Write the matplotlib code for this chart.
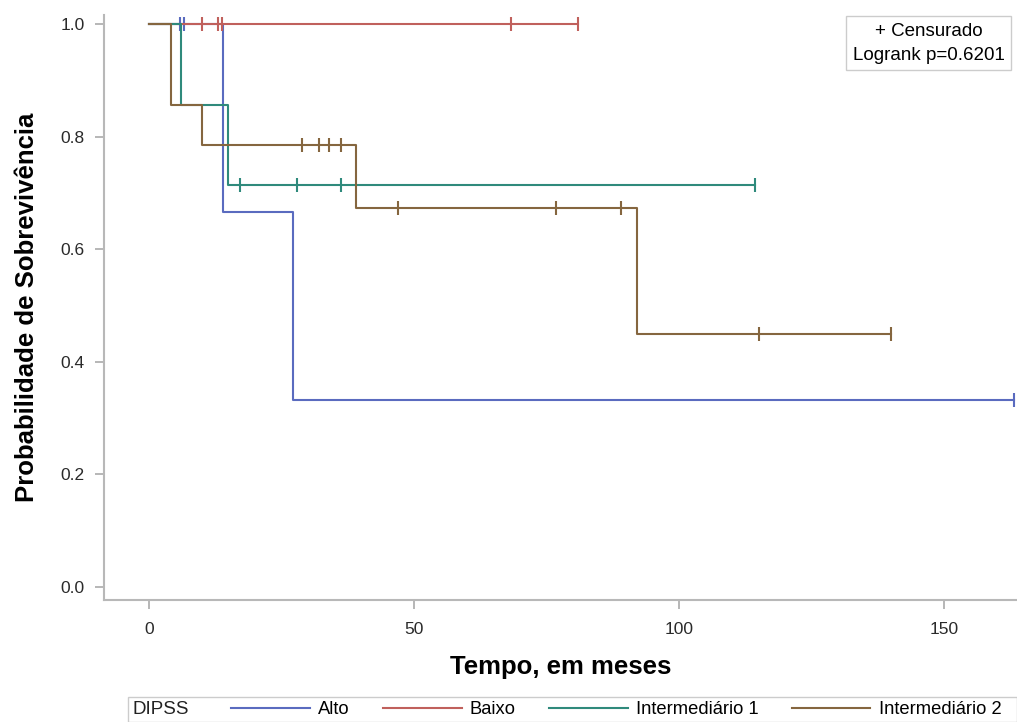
import numpy as np
import matplotlib
matplotlib.use('Agg')
import matplotlib.pyplot as plt
from matplotlib.patches import Rectangle

plt.rcParams['font.family'] = ['Liberation Sans', 'DejaVu Sans']

# curvas de Kaplan-Meier (tempo do degrau, sobrevivência)
grupos = ['Alto', 'Baixo', 'Intermediário 1', 'Intermediário 2']
cores = ['#5a6bbf', '#c0605c', '#2f8a7c', '#85663f']

alto_t = [0, 14.0, 27.2]
alto_s = [1.0, 0.667, 0.333]
alto_fim = 163.2
alto_cens = [5.9, 6.6, 163.2]

baixo_t = [0]
baixo_s = [1.0]
baixo_fim = 81.0
baixo_cens = [10.0, 13.1, 13.9, 68.3, 81.0]

int1_t = [0, 6.0, 15.0]
int1_s = [1.0, 0.857, 0.714]
int1_fim = 114.3
int1_cens = [17.2, 27.9, 36.2, 114.3]

int2_t = [0, 4.1, 10.1, 39.0, 92.1]
int2_s = [1.0, 0.857, 0.786, 0.673, 0.449]
int2_fim = 140.1
int2_cens = [28.9, 32.1, 34.0, 36.2, 47.0, 76.9, 89.0, 115.1, 140.1]

dados = [(alto_t, alto_s, alto_fim, alto_cens),
         (baixo_t, baixo_s, baixo_fim, baixo_cens),
         (int1_t, int1_s, int1_fim, int1_cens),
         (int2_t, int2_s, int2_fim, int2_cens)]

fig = plt.figure(figsize=(10.17, 7.22), dpi=100)
ax = fig.add_axes([0.102, 0.169, 0.898, 0.81])

linhas = []
for (t, s, fim, cens), cor, nome in zip(dados, cores, grupos):
    xs = list(t) + [fim]
    ys = list(s) + [s[-1]]
    l, = ax.step(xs, ys, where='post', color=cor, lw=1.5, label=nome)
    linhas.append(l)
    idx = np.searchsorted(t, cens, side='right') - 1
    ax.plot(cens, np.array(s)[idx], ls='none', marker='|', ms=10, mew=1.5,
            color=cor, clip_on=False)

ax.set_xlim(-8.5, 163.8)
ax.set_ylim(-0.023, 1.016)
ax.set_xticks([0, 50, 100, 150])
ax.set_yticks([0.0, 0.2, 0.4, 0.6, 0.8, 1.0])
ax.set_yticklabels(['0.0', '0.2', '0.4', '0.6', '0.8', '1.0'])
ax.tick_params(colors='#aaaaaa', labelcolor='#2a2a2a', labelsize=12.5,
               length=6.5, width=1.2)
ax.tick_params(axis='x', pad=9)
ax.tick_params(axis='y', pad=7)
for lado in ['top', 'right']:
    ax.spines[lado].set_visible(False)
for lado in ['left', 'bottom']:
    ax.spines[lado].set_color('#b8b8b8')
    ax.spines[lado].set_linewidth(1.5)

ax.set_xlabel('Tempo, em meses', fontsize=18.5, fontweight='bold', labelpad=13)
ax.set_ylabel('Probabilidade de Sobrevivência', fontsize=18.5,
              fontweight='bold', labelpad=16)

# caixa de informação
ax.text(0.9036, 0.952, '+ Censurado\nLogrank p=0.6201', transform=ax.transAxes,
        ha='center', va='center', fontsize=13.5, linespacing=1.55,
        bbox=dict(boxstyle='square,pad=0.35', fc='white', ec='#cccccc'))

# legenda inferior
fig.patches.append(Rectangle((128 / 1017, 0.0), 889 / 1017, 25 / 722,
                             transform=fig.transFigure, fc='white',
                             ec='#cccccc', lw=1))
fig.text(133 / 1017, 12 / 722, 'DIPSS', fontsize=13.5, va='center',
         color='#222222')
fig.legend(handles=linhas, loc='center left',
           bbox_to_anchor=(231 / 1017, 12 / 722), ncol=4, frameon=False,
           fontsize=13.2, handlelength=4.3, handletextpad=0.45,
           columnspacing=1.8, borderaxespad=0, borderpad=0)

fig.savefig('out.png', dpi=100)
